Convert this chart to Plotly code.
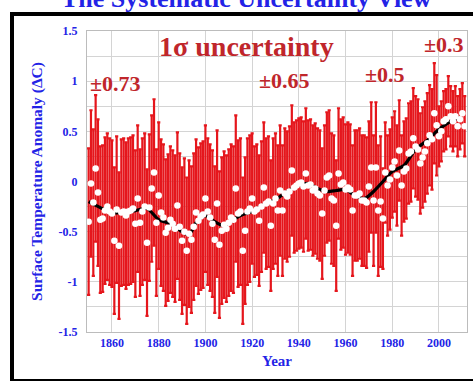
import plotly.graph_objects as go

# Annual global surface temperature anomalies (deg C), 1850-2011
years = list(range(1850, 2012))
anomaly = [
    # 1850-1859
    -0.40, -0.02, -0.21, 0.13, -0.11, -0.38, -0.37, -0.29, -0.25, -0.30,
    # 1860-1869
    -0.32, -0.59, -0.28, -0.64, -0.31, -0.30, -0.34, -0.30, -0.29, -0.27,
    # 1870-1879
    -0.42, -0.17, -0.41, -0.30, -0.25, -0.61, -0.26, -0.07, 0.09, -0.41,
    # 1880-1889
    -0.14, -0.31, -0.36, -0.51, -0.46, -0.38, -0.42, -0.47, -0.24, -0.45,
    # 1890-1899
    -0.59, -0.50, -0.69, -0.52, -0.58, -0.45, -0.31, -0.39, -0.35, -0.33,
    # 1900-1909
    -0.17, -0.30, -0.36, -0.42, -0.58, -0.22, -0.63, -0.49, -0.43, -0.47,
    # 1910-1919
    -0.41, -0.36, -0.38, -0.07, -0.32, -0.30, -0.69, -0.49, -0.30, -0.27,
    # 1920-1929
    -0.17, -0.30, -0.28, -0.39, -0.25, -0.06, -0.22, -0.20, -0.44, -0.22,
    # 1930-1939
    -0.17, -0.29, -0.09, -0.29, -0.12, -0.15, -0.10, 0.11, -0.06, -0.04,
    # 1940-1949
    -0.02, -0.01, -0.05, 0.08, -0.04, -0.03, -0.09, -0.07, -0.12, -0.14,
    # 1950-1959
    -0.32, -0.09, 0.04, 0.06, -0.17, -0.19, -0.44, 0.08, -0.03, -0.01,
    # 1960-1969
    -0.08, -0.06, -0.08, -0.29, -0.14, -0.14, -0.12, -0.19, -0.19, -0.21,
    # 1970-1979
    -0.05, 0.14, -0.19, 0.14, -0.29, -0.20, -0.37, 0.09, -0.04, 0.02,
    # 1980-1989
    0.14, 0.20, 0.06, 0.31, -0.04, 0.10, 0.13, 0.28, 0.30, 0.43,
    # 1990-1999
    0.35, 0.32, 0.18, 0.24, 0.30, 0.38, 0.46, 0.42, 0.68, 0.56,
    # 2000-2011
    0.45, 0.50, 0.60, 0.62, 0.75, 0.65, 0.60, 0.65, 0.55, 0.62, 0.68, 0.55,
]

# One-sigma systematic uncertainty by period: (first year, last year, +/- value)
uncertainty_periods = [
    (1850, 1919, 0.73),
    (1920, 1975, 0.65),
    (1976, 1999, 0.50),
    (2000, 2011, 0.30),
]

# Smoothed trend curve
smooth_years = [1850, 1855, 1860, 1865, 1870, 1875, 1880, 1885, 1890, 1893,
                1896, 1900, 1904, 1908, 1912, 1916, 1920, 1925, 1930, 1935,
                1940, 1944, 1948, 1952, 1956, 1960, 1964, 1968, 1972, 1976,
                1980, 1985, 1990, 1995, 2000, 2005, 2009]
smooth_vals = [-0.20, -0.26, -0.31, -0.31, -0.29, -0.27, -0.38, -0.42, -0.50, -0.53,
               -0.41, -0.34, -0.40, -0.44, -0.38, -0.33, -0.30, -0.23, -0.18, -0.10,
               -0.04, -0.02, -0.07, -0.10, -0.09, -0.08, -0.14, -0.17, -0.10, 0.00,
               0.10, 0.16, 0.32, 0.41, 0.52, 0.60, 0.64]

# Uncertainty labels: (year, anomaly, text)
unc_labels = [
    (1861.7, 0.98, "±0.73"),
    (1934.0, 1.01, "±0.65"),
    (1977.0, 1.07, "±0.5"),
    (2002.0, 1.37, "±0.3"),
]

x_ticks = [1860, 1880, 1900, 1920, 1940, 1960, 1980, 2000]
y_ticks = [-1.5, -1, -0.5, 0, 0.5, 1, 1.5]
y_tick_text = ["-1.5", "-1", "-0.5", "0", "0.5", "1", "1.5"]

sigma = []
for y in years:
    for first, last, u in uncertainty_periods:
        if first <= y <= last:
            sigma.append(u)
            break

RED = "#e5161c"
DARK_RED = "#c0262b"
BLUE = "#2323e6"
SERIF = "Liberation Serif, DejaVu Serif, serif"

fig = go.Figure()

# red one-sigma error bars
fig.add_trace(go.Scatter(
    x=years, y=anomaly, mode="markers",
    marker=dict(size=1, color=RED, opacity=0),
    error_y=dict(type="data", array=sigma, visible=True,
                 color=RED, thickness=2.2, width=1.6),
    hoverinfo="skip", showlegend=False,
))

# smoothed trend
fig.add_trace(go.Scatter(
    x=smooth_years, y=smooth_vals, mode="lines",
    line=dict(color="black", width=3.2, shape="spline", smoothing=0.8),
    showlegend=False,
))

# annual values
fig.add_trace(go.Scatter(
    x=years, y=anomaly, mode="markers",
    marker=dict(size=6.5, color="white", line=dict(width=0)),
    showlegend=False,
))

annotations = [
    dict(x=0.421, y=1.052, xref="paper", yref="paper", yanchor="bottom",
         text="<b>The Systematic Uncertainty View</b>", showarrow=False,
         font=dict(family=SERIF, size=26, color=BLUE)),
    dict(x=1917.8, y=1.345, xref="x", yref="y",
         text="<b>1σ uncertainty</b>", showarrow=False,
         font=dict(family=SERIF, size=28, color=DARK_RED)),
]
for xv, yv, txt in unc_labels:
    annotations.append(dict(x=xv, y=yv, xref="x", yref="y",
                            text="<b>" + txt + "</b>", showarrow=False,
                            font=dict(family=SERIF, size=22, color=DARK_RED)))

fig.update_layout(
    width=473, height=381,
    margin=dict(l=87, r=6, t=31, b=49),
    paper_bgcolor="white", plot_bgcolor="white",
    annotations=annotations,
    shapes=[
        # outer frame around the whole figure
        dict(type="rect", xref="paper", yref="paper",
             x0=(12 - 87) / 380, x1=(480 - 87) / 380,
             y0=(332 - 381) / 301, y1=(332 - 14) / 301,
             line=dict(color="black", width=4), layer="above"),
    ],
)

fig.update_xaxes(
    range=[1849.3, 2012.0],
    tickvals=x_ticks, ticktext=["<b>" + str(t) + "</b>" for t in x_ticks],
    showgrid=True, gridcolor="#d4d4d4", gridwidth=1,
    showline=True, linecolor="#bcbcbc", linewidth=1, mirror=True,
    ticks="", zeroline=False,
    tickfont=dict(family=SERIF, size=12, color=BLUE),
    title=dict(text="<b>Year</b>", font=dict(family=SERIF, size=15, color=BLUE),
               standoff=6),
)
fig.update_yaxes(
    range=[-1.5, 1.5],
    tickvals=y_ticks, ticktext=["<b>" + t + "</b>" for t in y_tick_text],
    showgrid=True, gridcolor="#d4d4d4", gridwidth=1,
    minor=dict(dtick=0.25, tick0=0, showgrid=True, gridcolor="#d4d4d4"),
    showline=True, linecolor="#bcbcbc", linewidth=1, mirror=True,
    ticks="", zeroline=False, ticklabelstandoff=6,
    tickfont=dict(family=SERIF, size=12, color=BLUE),
    title=dict(text="<b>Surface Temperature Anomaly (ΔC)</b>",
               font=dict(family=SERIF, size=15.5, color=BLUE), standoff=12),
)

fig.write_html("out.html")
